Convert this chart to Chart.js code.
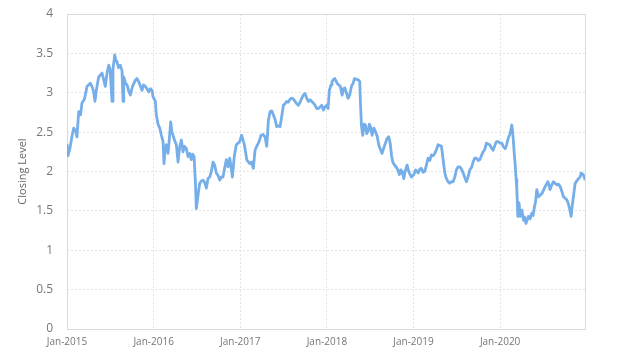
<!DOCTYPE html>
<html>
<head>
<meta charset="utf-8">
<script src="https://cdn.jsdelivr.net/npm/chart.js@4"></script>
<style>
  html, body { margin: 0; padding: 0; background: #fff; }
  canvas { display: block; }
</style>
</head>
<body>
<canvas id="closing-chart" width="624" height="363"></canvas>
<script>
// Closing level: [fraction of year, level]
var close2015 = [[0.000,2.35],[0.012,2.2],[0.035,2.3],[0.058,2.45],[0.077,2.55],[0.098,2.52],[0.115,2.44],[0.135,2.76],[0.156,2.72],[0.173,2.87],[0.202,2.92],[0.231,3.08],[0.269,3.12],[0.289,3.08],[0.308,3.01],[0.323,2.89],[0.341,3.05],[0.366,3.2],[0.404,3.25],[0.421,3.18],[0.442,3.08],[0.462,3.25],[0.482,3.35],[0.497,3.3],[0.520,2.89],[0.531,3.3],[0.551,3.48],[0.566,3.4],[0.577,3.39],[0.595,3.32],[0.615,3.35],[0.635,3.28],[0.647,2.89],[0.655,3.2],[0.676,3.12],[0.693,3.1],[0.710,3.03],[0.731,2.97],[0.756,3.08],[0.789,3.16],[0.808,3.18],[0.828,3.14],[0.849,3.08],[0.866,3.03],[0.883,3.1],[0.904,3.08],[0.924,3.05],[0.943,3.01],[0.964,3.05],[0.982,3.03],[0.993,2.95]];
var close2016 = [[0.020,2.89],[0.031,2.72],[0.051,2.6],[0.071,2.55],[0.092,2.45],[0.109,2.38],[0.120,2.10],[0.132,2.28],[0.147,2.34],[0.166,2.23],[0.184,2.45],[0.197,2.63],[0.212,2.5],[0.224,2.46],[0.241,2.4],[0.262,2.34],[0.282,2.12],[0.299,2.3],[0.320,2.40],[0.339,2.25],[0.357,2.32],[0.378,2.29],[0.397,2.19],[0.417,2.23],[0.435,2.15],[0.451,2.22],[0.467,2.19],[0.482,1.87],[0.493,1.53],[0.504,1.62],[0.513,1.70],[0.532,1.85],[0.551,1.88],[0.570,1.89],[0.590,1.86],[0.609,1.79],[0.628,1.91],[0.648,1.93],[0.666,2.0],[0.686,2.12],[0.705,2.08],[0.724,1.98],[0.744,1.95],[0.763,1.89],[0.782,1.93],[0.801,1.93],[0.821,2.05],[0.839,2.15],[0.859,2.06],[0.879,2.17],[0.894,2.05],[0.909,1.93],[0.932,2.2],[0.955,2.34],[0.975,2.36],[0.994,2.38]];
var close2017 = [[0.015,2.46],[0.032,2.40],[0.047,2.34],[0.061,2.25],[0.075,2.15],[0.094,2.12],[0.113,2.10],[0.133,2.12],[0.151,2.04],[0.171,2.27],[0.190,2.32],[0.209,2.36],[0.229,2.42],[0.240,2.46],[0.263,2.47],[0.286,2.44],[0.306,2.32],[0.325,2.65],[0.344,2.76],[0.364,2.77],[0.382,2.72],[0.402,2.66],[0.421,2.57],[0.440,2.58],[0.460,2.57],[0.479,2.7],[0.498,2.84],[0.517,2.86],[0.537,2.89],[0.555,2.88],[0.575,2.92],[0.595,2.93],[0.613,2.92],[0.633,2.89],[0.652,2.86],[0.671,2.84],[0.691,2.88],[0.710,2.93],[0.729,2.97],[0.748,2.99],[0.768,2.93],[0.786,2.89],[0.806,2.91],[0.826,2.89],[0.844,2.87],[0.864,2.84],[0.883,2.80],[0.902,2.80],[0.921,2.82],[0.941,2.84],[0.960,2.78],[0.979,2.82],[0.998,2.84]];
var close2018 = [[0.014,2.80],[0.029,3.03],[0.048,3.1],[0.059,3.14],[0.077,3.17],[0.091,3.18],[0.106,3.15],[0.118,3.12],[0.137,3.10],[0.156,3.08],[0.176,2.97],[0.191,3.05],[0.207,3.06],[0.225,3.0],[0.245,2.93],[0.264,2.97],[0.283,3.08],[0.303,3.12],[0.318,3.18],[0.343,3.17],[0.368,3.16],[0.380,3.14],[0.387,2.89],[0.399,2.59],[0.414,2.46],[0.430,2.6],[0.445,2.59],[0.461,2.48],[0.476,2.51],[0.491,2.6],[0.503,2.57],[0.522,2.46],[0.542,2.55],[0.560,2.51],[0.580,2.45],[0.599,2.34],[0.619,2.28],[0.637,2.23],[0.657,2.3],[0.676,2.36],[0.695,2.42],[0.714,2.44],[0.724,2.4],[0.733,2.34],[0.747,2.2],[0.761,2.12],[0.782,2.08],[0.811,2.04],[0.826,2.0],[0.837,1.96],[0.853,2.02],[0.868,2.00],[0.888,1.91],[0.903,2.0],[0.926,2.08],[0.940,2.02],[0.953,1.98],[0.976,1.93]];
var close2019 = [[0.003,1.96],[0.024,2.02],[0.042,2.0],[0.053,1.98],[0.073,2.03],[0.091,2.04],[0.111,1.99],[0.130,2.0],[0.149,2.08],[0.169,2.17],[0.188,2.14],[0.207,2.21],[0.226,2.2],[0.246,2.23],[0.265,2.28],[0.284,2.34],[0.304,2.33],[0.323,2.32],[0.342,2.15],[0.362,1.98],[0.380,1.91],[0.400,1.87],[0.418,1.85],[0.438,1.87],[0.457,1.87],[0.477,1.93],[0.495,2.02],[0.515,2.06],[0.535,2.06],[0.554,2.03],[0.573,1.98],[0.593,1.92],[0.611,1.87],[0.630,1.93],[0.650,2.02],[0.669,2.05],[0.688,2.12],[0.707,2.17],[0.726,2.17],[0.746,2.14],[0.765,2.15],[0.784,2.2],[0.804,2.25],[0.823,2.28],[0.842,2.36],[0.861,2.35],[0.881,2.34],[0.900,2.3],[0.919,2.27],[0.939,2.33],[0.958,2.38],[0.982,2.38],[0.998,2.36]];
var close2020 = [[0.021,2.36],[0.035,2.32],[0.058,2.29],[0.073,2.33],[0.088,2.40],[0.104,2.45],[0.115,2.48],[0.135,2.59],[0.145,2.5],[0.155,2.36],[0.164,2.22],[0.173,2.10],[0.185,1.9],[0.193,1.77],[0.205,1.43],[0.212,1.52],[0.219,1.60],[0.231,1.43],[0.251,1.51],[0.270,1.38],[0.284,1.42],[0.298,1.34],[0.312,1.38],[0.327,1.43],[0.346,1.4],[0.366,1.47],[0.381,1.44],[0.396,1.55],[0.410,1.62],[0.424,1.77],[0.443,1.68],[0.462,1.7],[0.482,1.72],[0.500,1.76],[0.520,1.81],[0.537,1.84],[0.551,1.87],[0.566,1.82],[0.577,1.77],[0.597,1.83],[0.616,1.87],[0.635,1.85],[0.655,1.83],[0.673,1.84],[0.693,1.81],[0.712,1.75],[0.731,1.68],[0.751,1.66],[0.770,1.64],[0.785,1.6],[0.797,1.55],[0.808,1.5],[0.820,1.43],[0.831,1.55],[0.846,1.68],[0.866,1.85],[0.886,1.88],[0.905,1.91],[0.924,1.93],[0.935,1.98],[0.949,1.97],[0.960,1.96],[0.982,1.89]];

var tickYears = [2015, 2016, 2017, 2018, 2019, 2020];
var yTicks = [0, 0.5, 1, 1.5, 2, 2.5, 3, 3.5, 4];

var byYear = { 2015: close2015, 2016: close2016, 2017: close2017, 2018: close2018, 2019: close2019, 2020: close2020 };
var points = [];
Object.keys(byYear).forEach(function (yr) {
    byYear[yr].forEach(function (p) {
        points.push({ x: Number(yr) + p[0], y: p[1] });
    });
});

// box round the plot area
var plotBox = {
    id: "plotBox",
    beforeDatasetsDraw: function (chart) {
        var a = chart.chartArea, ctx = chart.ctx;
        ctx.save();
        ctx.strokeStyle = "#d6dae2";
        ctx.lineWidth = 1;
        ctx.strokeRect(Math.round(a.left) + 0.5, Math.round(a.top) + 0.5, Math.round(a.right - a.left), Math.round(a.bottom - a.top));
        ctx.restore();
    }
};

var ctx = document.querySelector("#closing-chart");
var closingChart = new Chart(ctx, {
    type: "line",
    data: {
        datasets: [{
            label: "Closing Level",
            data: points,
            borderColor: "rgb(117,174,233)",
            borderWidth: 2.8,
            pointRadius: 0,
            tension: 0,
            fill: false,
            borderJoinStyle: "round"
        }]
    },
    plugins: [plotBox],
    options: {
        responsive: false,
        animation: false,
        layout: { padding: { top: 14, right: 39, left: 0, bottom: 0 } },
        plugins: {
            legend: { display: false },
            tooltip: { enabled: false }
        },
        scales: {
            x: {
                type: "linear",
                min: 2015,
                max: 2020.98,
                afterFit: function (s) { s.height = 34; },
                afterBuildTicks: function (s) {
                    s.ticks = tickYears.map(function (v) { return { value: v }; });
                },
                grid: { color: "#e4e4e4", drawTicks: false },
                border: { display: false, dash: [2, 2] },
                ticks: {
                    padding: 7,
                    color: "#777",
                    font: { family: "Open Sans", size: 10 },
                    callback: function (v) { return "Jan-" + v; }
                }
            },
            y: {
                min: 0,
                max: 4,
                afterFit: function (s) { s.width = 67; },
                afterBuildTicks: function (s) {
                    s.ticks = yTicks.map(function (v) { return { value: v }; });
                },
                // invisible tick marks keep the labels off the plot without padding the top
                grid: { color: "#e4e4e4", drawTicks: true, tickLength: 14, tickColor: "rgba(0,0,0,0)" },
                border: { display: false, dash: [2, 2] },
                ticks: {
                    padding: 0,
                    color: "#777",
                    font: { family: "Open Sans", size: 12 },
                    callback: function (v) { return String(v); }
                },
                title: {
                    display: true,
                    text: "Closing Level",
                    color: "#666",
                    font: { family: "Open Sans", size: 11 },
                    padding: { top: 16, bottom: 0 }
                }
            }
        }
    }
});
</script>
</body>
</html>
